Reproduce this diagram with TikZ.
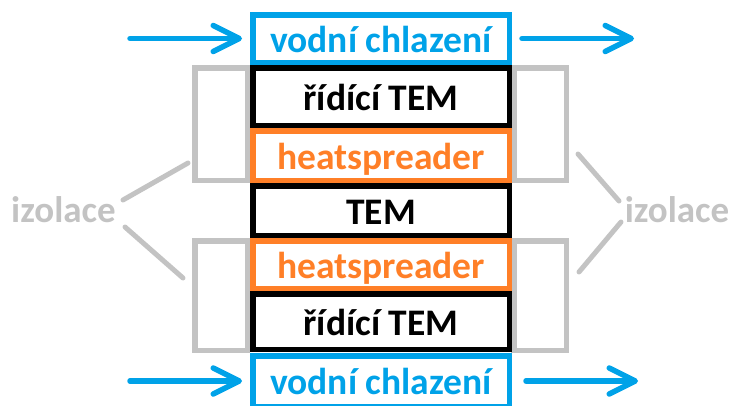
\documentclass[tikz,border=0pt]{standalone}
\usepackage{fontspec}
\setmainfont{Carlito}
\usetikzlibrary{arrows.meta}
\definecolor{coolblue}{HTML}{00A2E8}
\definecolor{spreadorange}{HTML}{FF7F27}
\definecolor{izolgray}{HTML}{C3C3C3}

\begin{document}
\begin{tikzpicture}[x=1pt, y=-1pt,
    layer/.style={draw, line width=5.5pt, minimum width=256.5pt, inner sep=0pt,
        text height=27pt, text depth=0pt, font=\fontsize{37.5}{40}\selectfont\bfseries},
    coolbox/.style={layer, draw=coolblue, text=coolblue},
    tembox/.style={layer, draw=black, text=black},
    spreadbox/.style={layer, draw=spreadorange, text=spreadorange},
    izolbox/.style={draw=izolgray, line width=5.5pt, minimum width=52.5pt, inner sep=0pt},
    izoltext/.style={text=izolgray, inner sep=0pt, text height=27pt, text depth=0pt,
        font=\fontsize{37}{40}\selectfont\bfseries},
    izolline/.style={draw=izolgray, line width=5pt, line cap=round},
    flow/.style={draw=coolblue, line width=5.5pt, line cap=round, line join=round,
        -{Straight Barb[length=26pt, width=26pt, round]}}]
    \useasboundingbox (0,0) rectangle (733,405);

    % izolace okolo
    \node[izolbox, minimum height=112.5pt] (boxLT) at (221,124) {};
    \node[izolbox, minimum height=109.5pt] (boxLB) at (221,295.5) {};
    \node[izolbox, minimum height=112.5pt] (boxRT) at (540,124) {};
    \node[izolbox, minimum height=109.5pt] (boxRB) at (540,295.5) {};

    % vrstvy
    \node[coolbox, minimum height=47.5pt] (coolTop) at (381,38.5) {vodní chlazení};
    \node[tembox, minimum height=57.5pt] (ctrlTop) at (381,96.5) {řídící TEM};
    \node[spreadbox, minimum height=49.5pt] (spreadTop) at (381,155.5) {heatspreader};
    \node[tembox, minimum height=49.5pt] (tem) at (381,210.5) {TEM};
    \node[spreadbox, minimum height=47.5pt] (spreadBot) at (381,264.5) {heatspreader};
    \node[tembox, minimum height=55.5pt] (ctrlBot) at (381,321.5) {řídící TEM};
    \node[coolbox, minimum height=50.5pt] (coolBot) at (381,381) {vodní chlazení};

    \node[izoltext] (izolL) at (63.5,209) {izolace};
    \node[izoltext] (izolR) at (677,209) {izolace};

    \coordinate (luA) at (123,200);
    \coordinate (luB) at (188,163);
    \coordinate (llA) at (125,227);
    \coordinate (llB) at (183,278);
    \coordinate (ruA) at (578,154);
    \coordinate (ruB) at (619,201);
    \coordinate (rlA) at (579,272);
    \coordinate (rlB) at (621,222);
    \draw[izolline] (luA) -- (luB);
    \draw[izolline] (llA) -- (llB);
    \draw[izolline] (ruA) -- (ruB);
    \draw[izolline] (rlA) -- (rlB);

    % průtok vody
    \coordinate (inTop) at (130,38.5);
    \coordinate (outTop) at (634,38.5);
    \coordinate (inBot) at (130,381);
    \coordinate (outBot) at (638,381);
    \draw[flow, shorten >=8pt] (inTop) -- (coolTop.west);
    \draw[flow, shorten <=10pt] (coolTop.east) -- (outTop);
    \draw[flow, shorten >=8pt] (inBot) -- (coolBot.west);
    \draw[flow, shorten <=14pt] (coolBot.east) -- (outBot);
\end{tikzpicture}
\end{document}
